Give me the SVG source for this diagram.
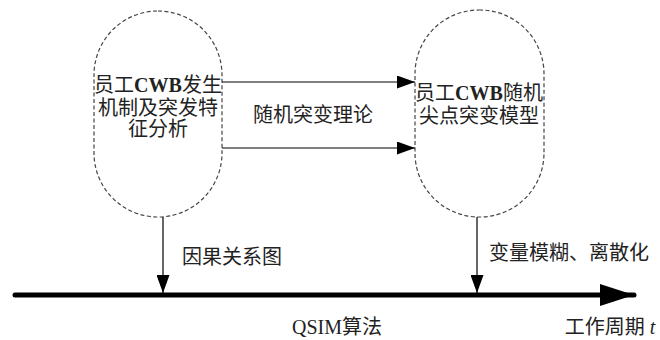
<svg xmlns="http://www.w3.org/2000/svg" width="660" height="340" viewBox="0 0 660 340">
<defs>
<marker id="ah" markerWidth="18" markerHeight="13" refX="18" refY="6.5" orient="auto" markerUnits="userSpaceOnUse"><path d="M0,0 L18,6.5 L0,13 Z" fill="#000"/></marker>
<marker id="big" markerWidth="34" markerHeight="22" refX="34" refY="11" orient="auto" markerUnits="userSpaceOnUse"><path d="M0,0 L34,11 L0,22 Z" fill="#000"/></marker>
</defs>
<style>
.node{fill:#fff;stroke:#444;stroke-width:1.2;stroke-dasharray:4 2.5}
.t{font-family:"Liberation Serif","Noto Sans CJK SC",serif;font-size:20px;fill:#222;text-anchor:middle}
.c{stroke:#000;stroke-width:1.2;fill:none}
</style>
<rect width="660" height="340" fill="#fff"/>
<g id="node-left">
<rect class="node" x="94" y="11" width="128" height="206" rx="64" ry="64"/>
<text class="t" x="158" y="92">员工<tspan font-weight="bold">CWB</tspan>发生</text>
<text class="t" x="158" y="115">机制及突发特</text>
<text class="t" x="158" y="136">征分析</text>
</g>
<g id="node-right">
<rect class="node" x="415" y="10" width="129" height="207" rx="64" ry="64"/>
<text class="t" x="479" y="100">员工<tspan font-weight="bold">CWB</tspan>随机</text>
<text class="t" x="479" y="123">尖点突变模型</text>
</g>
<g id="connectors">
<line class="c" x1="222" y1="82" x2="415" y2="82" marker-end="url(#ah)"/>
<line class="c" x1="222" y1="148" x2="415" y2="148" marker-end="url(#ah)"/>
<line class="c" x1="163" y1="217" x2="163" y2="293" marker-end="url(#ah)"/>
<line class="c" x1="477" y1="217" x2="477" y2="293" marker-end="url(#ah)"/>
<line x1="15" y1="295" x2="634" y2="295" stroke="#000" stroke-width="5" stroke-linecap="round" marker-end="url(#big)"/>
</g>
<g id="labels">
<text class="t" x="313" y="122">随机突变理论</text>
<text class="t" x="232" y="264">因果关系图</text>
<text class="t" x="569" y="260">变量模糊、离散化</text>
<text class="t" x="337" y="334">QSIM算法</text>
<text class="t" x="610" y="334">工作周期 <tspan font-style="italic">t</tspan></text>
</g>
</svg>
